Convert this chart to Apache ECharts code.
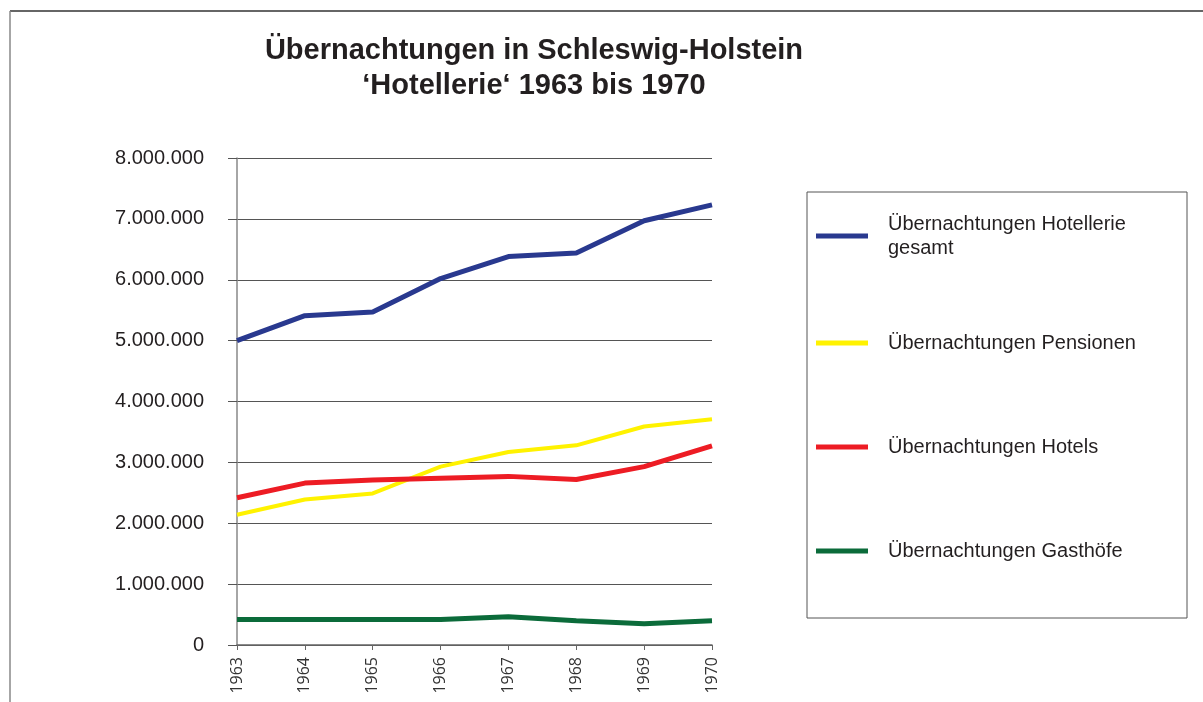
<!DOCTYPE html>
<html>
<head>
<meta charset="utf-8">
<script src="https://cdn.jsdelivr.net/npm/echarts@6/dist/echarts.min.js"></script>
<style>
  html, body { margin: 0; padding: 0; background: #fff; }
  #chart { width: 1203px; height: 702px; }
</style>
</head>
<body>
<div id="chart"></div>
<script>
  // Jahre (x-Achse)
  var years = ['1963', '1964', '1965', '1966', '1967', '1968', '1969', '1970'];
  // Übernachtungen je Betriebsart
  var gesamt = [5000000, 5410000, 5470000, 6020000, 6380000, 6440000, 6970000, 7230000];
  var pensionen = [2140000, 2390000, 2490000, 2930000, 3170000, 3280000, 3590000, 3710000];
  var hotels = [2420000, 2660000, 2710000, 2740000, 2770000, 2720000, 2930000, 3270000];
  var gasthoefe = [420000, 420000, 420000, 420000, 465000, 400000, 350000, 400000];

  var names = ['Übernachtungen Hotellerie gesamt', 'Übernachtungen Pensionen',
    'Übernachtungen Hotels', 'Übernachtungen Gasthöfe'];
  var colors = ['#29398f', '#fff200', '#ed1c24', '#0b6b3a'];
  var font = '"Liberation Sans", Arial, sans-serif';

  // Tausenderpunkte wie im Original
  function punkt (v) {
    return String(v).replace(/\B(?=(\d{3})+(?!\d))/g, '.');
  }

  function legende (i, top) {
    return {
      data: [names[i]],
      left: 816,
      top: top,
      padding: 0,
      icon: 'rect',
      itemWidth: 52,
      itemHeight: 5,
      formatter: function (n) {
        return n === names[0] ? 'Übernachtungen Hotellerie\ngesamt' : n;
      },
      textStyle: {
        fontFamily: font,
        fontSize: 20,
        lineHeight: 24,
        color: '#231f20',
        padding: [0, 0, 0, 15]
      }
    };
  }

  var chart = echarts.init(document.getElementById('chart'));
  chart.setOption({
    animation: false,
    color: colors,
    title: {
      text: 'Übernachtungen in Schleswig-Holstein\n‘Hotellerie‘ 1963 bis 1970',
      left: 529,
      top: 28,
      textAlign: 'center',
      textStyle: {
        fontFamily: font,
        fontSize: 29,
        fontWeight: 'bold',
        lineHeight: 35,
        color: '#231f20'
      }
    },
    legend: [legende(0, 212), legende(1, 331), legende(2, 435), legende(3, 539)],
    grid: {
      left: 237,
      right: 491,
      top: 158,
      bottom: 57
    },
    xAxis: {
      type: 'category',
      data: years,
      boundaryGap: false,
      axisLine: { lineStyle: { color: '#666', width: 1.5 } },
      axisTick: { alignWithLabel: true, length: 5, lineStyle: { color: '#666' } },
      axisLabel: {
        rotate: 90,
        margin: 12,
        fontFamily: '"Open Sans", sans-serif',
        fontSize: 16,
        color: '#333'
      }
    },
    yAxis: {
      type: 'value',
      min: 0,
      max: 8000000,
      interval: 1000000,
      axisLine: { show: true, lineStyle: { color: '#888', width: 1.5 } },
      axisTick: { show: true, length: 9, lineStyle: { color: '#555' } },
      splitLine: { lineStyle: { color: '#555', width: 1 } },
      axisLabel: {
        margin: 33,
        fontFamily: font,
        fontSize: 20,
        color: '#231f20',
        formatter: punkt
      }
    },
    series: [
      { name: names[0], type: 'line', data: gesamt, symbol: 'none', lineStyle: { width: 5 } },
      { name: names[1], type: 'line', data: pensionen, symbol: 'none', lineStyle: { width: 4 } },
      { name: names[2], type: 'line', data: hotels, symbol: 'none', lineStyle: { width: 5 } },
      { name: names[3], type: 'line', data: gasthoefe, symbol: 'none', lineStyle: { width: 5 } }
    ],
    graphic: [
      // Legendenrahmen
      { type: 'rect', shape: { x: 807, y: 192, width: 380, height: 426 },
        style: { fill: 'none', stroke: '#555', lineWidth: 1 }, z: -1 },
      // Außenrahmen oben und links
      { type: 'line', shape: { x1: 10, y1: 11, x2: 1203, y2: 11 },
        style: { stroke: '#333', lineWidth: 1.5 } },
      { type: 'line', shape: { x1: 10, y1: 11, x2: 10, y2: 702 },
        style: { stroke: '#888', lineWidth: 1.5 } }
    ]
  });
</script>
</body>
</html>
